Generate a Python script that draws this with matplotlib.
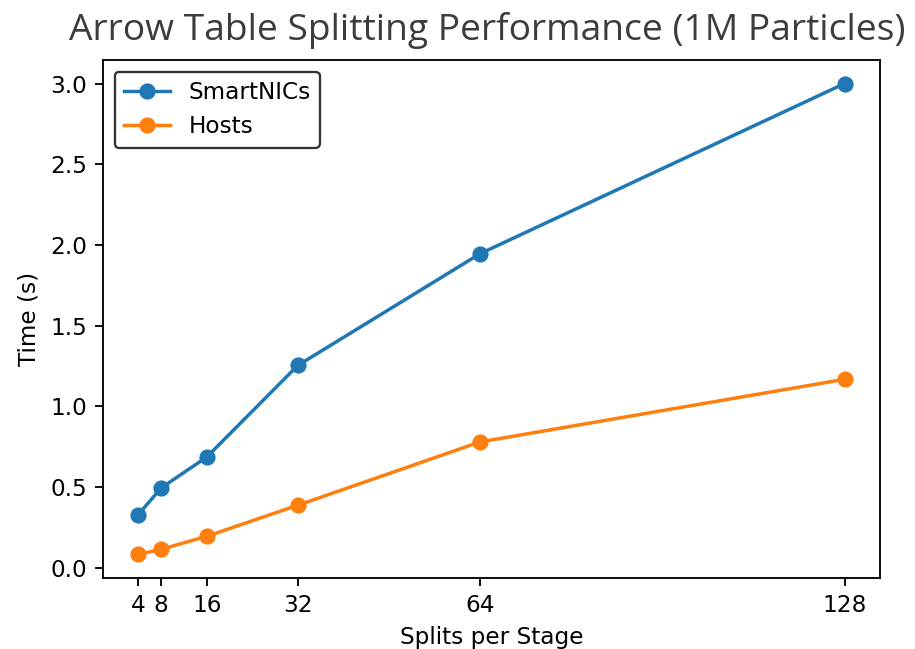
import matplotlib
matplotlib.use("Agg")
import matplotlib.pyplot as plt

splits = [4, 8, 16, 32, 64, 128]
smartnics = [0.33, 0.495, 0.686, 1.254, 1.946, 3.0]
hosts = [0.083, 0.115, 0.195, 0.388, 0.78, 1.168]

DPI = 166.4
fig = plt.figure(figsize=(915 / DPI, 649 / DPI), dpi=DPI)
ax = fig.add_axes([0.1126, 0.1094, 0.8491, 0.7982])

ax.plot(splits, smartnics, marker='o', color='#1f77b4', label='SmartNICs')
ax.plot(splits, hosts, marker='o', color='#ff7f0e', label='Hosts')

ax.set_xticks(splits)
ax.set_yticks([0.0, 0.5, 1.0, 1.5, 2.0, 2.5, 3.0])
ax.set_xlabel('Splits per Stage')
ax.set_ylabel('Time (s)')
leg = ax.legend(loc='upper left', edgecolor='black', framealpha=0.8)

fig.text(0.532, 0.953, 'Arrow Table Splitting Performance (1M Particles)',
         ha='center', va='center', fontsize=16.1, family='Open Sans', color='#3c3c3c')

fig.savefig('out.png', dpi=DPI)
